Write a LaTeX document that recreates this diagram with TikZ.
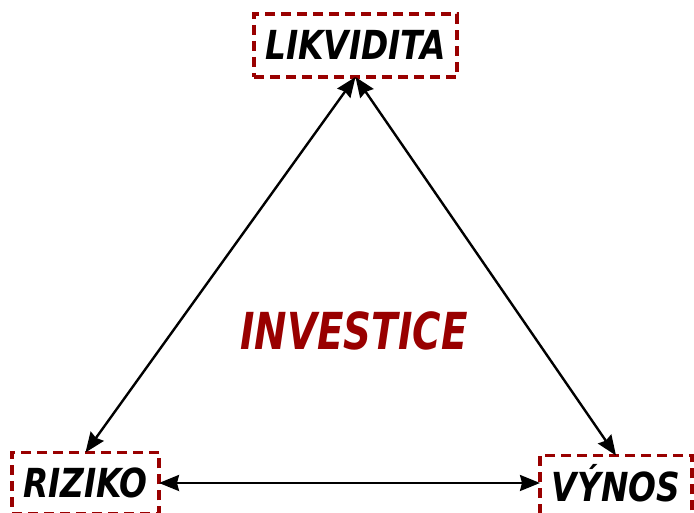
\documentclass[tikz,border=0pt]{standalone}
\usepackage{fontspec}
\usepackage{tikz}
\usepackage{xcolor}
\usetikzlibrary{arrows.meta}

\newfontfamily\labelfont[FakeStretch=0.82]{DejaVu Sans}
\newfontfamily\titlefont[FakeStretch=0.76]{DejaVu Sans}
\definecolor{darkred}{RGB}{153,0,0}

\tikzset{
  goalbox/.style={draw=darkred, line width=3.2pt, dash pattern=on 10pt off 6pt,
    minimum height=63pt, inner xsep=0pt, outer sep=0pt, text height=29pt, text depth=0pt,
    font=\labelfont\fontsize{40}{40}\selectfont\bfseries\itshape},
  link/.style={line width=2.4pt, {Stealth[length=20pt,width=16pt,inset=2pt]}-{Stealth[length=20pt,width=16pt,inset=2pt]}}
}

\begin{document}
\begin{tikzpicture}[x=1pt,y=1pt]
				\useasboundingbox (0,0) rectangle (694,513);
				% Boxes
				\node[goalbox, minimum width=203pt] (likvidita) at (355.5,467.5) {LIKVIDITA};
				\node[goalbox, minimum width=147pt, minimum height=61pt] (riziko) at (85.5,30) {RIZIKO};
				\node[goalbox, minimum width=152pt] (vynos) at (616,26) {VÝNOS};
				
				% Center label
				\node[text=darkred, font=\titlefont\fontsize{51}{51}\selectfont\bfseries\itshape] (investice) at (354,182) {INVESTICE};
				
				% Arrows between the three
				\draw[link] (likvidita.south) -- (riziko.north);
				\draw[link] (likvidita.south) -- (vynos.north);
				\draw[link] (riziko.east) -- (vynos.west |- riziko.east);
			\end{tikzpicture}
\end{document}
